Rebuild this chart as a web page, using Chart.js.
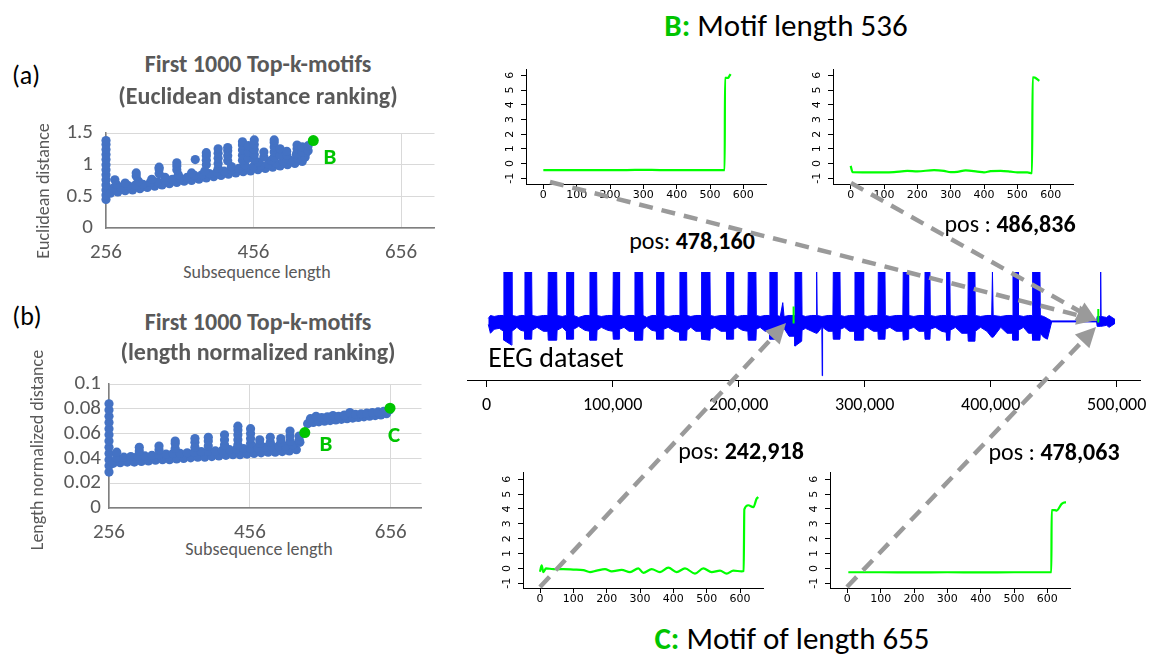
<!DOCTYPE html>
<html>
<head>
<meta charset="utf-8">
<script src="https://cdn.jsdelivr.net/npm/chart.js@4.4.1/dist/chart.umd.min.js"></script>
<style>
  body { margin: 0; background: #fff; }
  #page { position: relative; width: 1150px; height: 655px; overflow: hidden; font-family: Carlito, Lato, sans-serif; }
  #page canvas { position: absolute; }
  .t { position: absolute; white-space: nowrap; line-height: 1; }
</style>
</head>
<body>
<div id="page"></div>
<script>
'use strict';

// ---------- data ----------

// (a) / (b) ranking scatter plots: [subsequence length, distance]
var lengthTicks = [256, 456, 656];
var euclidTicks = [0, 0.5, 1, 1.5];
var normTicks = [0, 0.02, 0.04, 0.06, 0.08, 0.1];

var euclidPoints = [
  [256,0.45],[256,0.52],[256,0.6],[256,0.68],[256,0.76],[256,0.84],[256,0.92],[256,1.0],[256,1.08],[256,1.16],[256,1.24],[256,1.32],[256,1.38],
  [262,0.55],[272,0.57],[282,0.59],[292,0.6],[302,0.62],[312,0.64],[322,0.66],[332,0.68],[342,0.7],[352,0.72],[362,0.74],[372,0.75],[382,0.77],[392,0.79],
  [402,0.81],[412,0.83],[422,0.85],[432,0.87],[442,0.89],[452,0.9],[462,0.92],[472,0.94],[482,0.96],[492,0.98],[502,1.0],[512,1.02],[522,1.05],
  [266,0.63],[276,0.64],[286,0.67],[296,0.68],[306,0.69],[316,0.72],[326,0.73],[336,0.75],[346,0.77],[356,0.79],[366,0.8],[376,0.83],[386,0.84],[396,0.86],
  [406,0.88],[416,0.9],[426,0.92],[436,0.94],[446,0.96],[456,0.97],[466,0.99],[476,1.01],[486,1.03],[496,1.05],[506,1.07],[516,1.1],[526,1.12],
  [270,0.69],[282,0.71],[300,0.74],[318,0.77],[336,0.8],[354,0.84],[372,0.87],[390,0.9],[408,0.94],[426,0.97],[444,1.0],[462,1.04],[480,1.07],[498,1.1],[514,1.16],[528,1.2],
  [268,0.76],[297,0.82],[297,0.87],[328,0.86],[328,0.93],[328,0.96],[352,0.92],[352,0.98],[352,1.03],[377,1.08],
  [392,1.0],[392,1.07],[392,1.14],[392,1.19],[408,1.02],[408,1.1],[408,1.18],[408,1.25],[421,1.06],[421,1.14],[421,1.22],[421,1.27],
  [441,1.07],[441,1.15],[441,1.23],[441,1.31],[441,1.36],[449,1.1],[449,1.2],[449,1.3],[457,1.08],[457,1.16],[457,1.24],[457,1.32],[457,1.39],
  [470,1.12],[470,1.2],[484,1.12],[484,1.2],[484,1.28],[484,1.35],[484,1.39],[492,1.15],[492,1.25],[501,1.15],[501,1.21],
  [515,1.18],[515,1.25],[515,1.31],[522,1.2],[522,1.28],[530,1.22],[530,1.3]
];
var euclidMotifs = [[537, 1.38]];

var normPoints = [
  [256,0.029],[256,0.034],[256,0.039],[256,0.044],[256,0.049],[256,0.054],[256,0.059],[256,0.064],[256,0.069],[256,0.074],[256,0.079],[256,0.084],
  [262,0.036],[272,0.0365],[282,0.037],[292,0.037],[302,0.0375],[312,0.038],[322,0.0385],[332,0.039],[342,0.039],[352,0.0395],[362,0.04],[372,0.0405],
  [382,0.041],[392,0.041],[402,0.0415],[412,0.042],[422,0.0425],[432,0.043],[442,0.043],[452,0.0435],[462,0.044],[472,0.0445],[482,0.045],[492,0.045],
  [502,0.0455],[512,0.046],[522,0.047],
  [267,0.0405],[277,0.041],[287,0.0415],[297,0.042],[307,0.042],[317,0.0425],[327,0.043],[337,0.0435],[347,0.044],[357,0.044],[367,0.0445],[377,0.045],
  [387,0.0455],[397,0.046],[407,0.046],[417,0.0465],[427,0.047],[437,0.0475],[447,0.048],[457,0.048],[467,0.0485],[477,0.049],[487,0.0495],[497,0.05],
  [507,0.05],[517,0.051],[527,0.053],
  [267,0.045],[299,0.046],[299,0.049],[327,0.047],[327,0.05],[350,0.048],[350,0.052],[350,0.054],[378,0.049],[378,0.053],[378,0.056],
  [397,0.05],[397,0.054],[397,0.057],[420,0.051],[420,0.055],[420,0.059],[439,0.051],[439,0.055],[439,0.059],[439,0.063],[439,0.066],
  [457,0.052],[457,0.056],[457,0.06],[457,0.064],[470,0.052],[470,0.055],[485,0.053],[485,0.057],[500,0.053],[500,0.056],
  [513,0.054],[513,0.058],[513,0.062],[526,0.055],[526,0.058],
  [538,0.068],[546,0.069],[554,0.0695],[562,0.07],[570,0.0705],[578,0.071],[586,0.0715],[594,0.072],[602,0.0725],[610,0.073],[618,0.0735],
  [626,0.074],[634,0.0745],[642,0.075],[650,0.076],
  [542,0.072],[550,0.074],[558,0.073],[566,0.0735],[574,0.0745],[582,0.074],[590,0.075],[598,0.077],[606,0.0755],[614,0.076],[622,0.0765],
  [630,0.077],[638,0.0775],[646,0.078],[654,0.079]
];
var normMotifs = [[534, 0.0608], [655, 0.0805]];

// EEG dataset: envelope (upper / lower) of the signal at sample positions
var eegTicks = [0, 100000, 200000, 300000, 400000, 500000];
var eegTime = [
  1300, 3000, 6000, 10000,
  13400, 13700, 19800, 20100, 24000, 27000,
  30100, 30400, 35700, 36000, 40000, 45000,
  48600, 48900, 55600, 55900, 60000,
  63200, 63500, 68700, 69000, 73000, 78000,
  81700, 82000, 87300, 87600, 91000, 96000,
  100200, 100500, 105200, 105500, 109000, 113000,
  117400, 117700, 123800, 124100, 127000, 131000,
  134600, 134900, 140200, 140500, 144000, 149000,
  153100, 153400, 158700, 159000, 162000, 166000,
  170300, 170600, 177200, 177500, 181000, 186000,
  190200, 190500, 195700, 196000, 199000, 203000,
  207300, 207600, 213700, 214000, 217000, 221000,
  224500, 224800, 230100, 230400, 233000, 235000, 236000, 240000,
  244400, 244700, 250000, 250300, 253000, 258000,
  261500, 261900, 262300, 266000, 266300, 266600, 271000,
  274800, 275100, 280400, 280700, 284000, 288000,
  292000, 292300, 298900, 299200, 302000, 307000,
  310500, 310800, 316100, 316400, 320000, 325000,
  330300, 330600, 334600, 334900, 339000, 343000,
  347600, 347900, 351800, 352100, 356000, 361000,
  364700, 365000, 367600, 367900, 372000, 377000,
  381900, 382200, 387500, 387800, 392000, 397000,
  400800, 401400, 402000, 408000, 413000,
  417400, 417700, 421700, 422000, 426000, 430000,
  433000, 433300, 439100, 439400, 442000, 445000, 448400,
  484100, 484500, 487000, 487300, 487600, 492000, 494000, 498700
];
var eegHigh = [
  0.3, 0.6, 0.5, 0.6,
  0.6, 5, 5, 0.6, 0.5, 0.6,
  0.6, 5, 5, 0.6, 0.5, 0.6,
  0.6, 5, 5, 0.6, 0.5,
  0.6, 5, 5, 0.6, 0.4, 0.6,
  0.6, 5, 5, 0.6, 0.5, 0.6,
  0.6, 5, 5, 0.6, 0.5, 0.6,
  0.6, 5, 5, 0.6, 0.4, 0.6,
  0.6, 5, 5, 0.6, 0.5, 0.6,
  0.6, 5, 5, 0.6, 0.5, 0.6,
  0.6, 5, 5, 0.6, 0.5, 0.6,
  0.6, 5, 5, 0.6, 0.5, 0.6,
  0.6, 5, 5, 0.6, 0.5, 0.6,
  0.6, 5, 5, 0.6, 0.5, 1.9, 0.5, 0.6,
  0.6, 5, 5, 0.6, 0.5, 0.6,
  0.6, 5, 0.6, 0.5, 0.5, 0.5, 0.6,
  0.6, 5, 5, 0.6, 0.5, 0.6,
  0.6, 5, 5, 0.6, 0.5, 0.6,
  0.6, 5, 5, 0.6, 0.5, 0.6,
  0.6, 5, 5, 0.6, 0.5, 0.6,
  0.6, 5, 5, 0.6, 0.5, 0.6,
  0.6, 5, 5, 0.6, 0.5, 0.6,
  0.6, 5, 5, 0.6, 0.5, 0.6,
  0.6, 5, 0.6, 0.5, 0.6,
  0.6, 5, 5, 0.6, 0.5, 0.6,
  0.6, 5, 5, 0.6, 0.5, 0.3, 0.05,
  0.05, 0.5, 0.5, 5, 0.5, 0.4, 0.6, 0.2
];
var eegLow = [
  -0.3, -1.2, -0.8, -0.7,
  -1.0, -1.9, -2.4, -1.0, -0.6, -0.9,
  -1.0, -1.8, -1.8, -0.9, -0.6, -1.0,
  -1.0, -1.9, -1.9, -0.9, -0.6,
  -1.0, -1.8, -1.8, -0.8, -0.5, -0.9,
  -1.0, -1.9, -1.9, -0.9, -0.6, -0.9,
  -1.0, -1.8, -1.8, -0.8, -0.6, -1.0,
  -1.0, -1.9, -1.9, -0.8, -0.5, -0.9,
  -1.0, -1.8, -1.8, -0.8, -0.6, -1.0,
  -1.1, -1.9, -1.9, -0.9, -0.6, -1.0,
  -1.0, -1.8, -1.9, -0.8, -0.6, -1.0,
  -1.0, -1.8, -1.8, -0.8, -0.6, -0.9,
  -1.0, -1.9, -1.9, -0.8, -0.6, -1.0,
  -1.0, -1.8, -1.8, -0.8, -0.7, -0.8, -0.7, -1.5,
  -1.5, -2.5, -2.0, -0.9, -0.7, -1.0,
  -1.2, -1.2, -1.2, -0.6, -5.5, -0.6, -1.0,
  -1.0, -1.8, -1.8, -0.8, -0.6, -1.0,
  -1.0, -1.9, -1.9, -0.8, -0.6, -1.0,
  -1.0, -1.8, -1.8, -0.8, -0.6, -1.0,
  -1.0, -1.9, -1.8, -0.8, -0.6, -1.0,
  -1.0, -1.8, -1.8, -0.8, -0.6, -1.0,
  -1.1, -1.9, -1.9, -0.9, -0.6, -1.2,
  -1.2, -2.0, -2.0, -1.0, -0.6, -1.0,
  -1.6, -1.6, -1.6, -0.6, -1.2,
  -1.2, -1.9, -1.9, -0.9, -0.6, -1.2,
  -1.2, -1.9, -1.9, -1.2, -1.6, -1.8, -0.05,
  -0.05, -0.5, -0.5, -0.5, -0.5, -0.4, -0.6, -0.2
];
// green marks where the motifs sit in the EEG
var eegMotifTime = [243600, 243600, 364000, 485400, 485400];
var eegMotifValue = [-0.2, 1.5, null, -0.1, 1.25];

// the four motif occurrences (index, value)
var motifXTicks = [0, 100, 200, 300, 400, 500, 600];
var motifYTicks = [-1, 0, 1, 2, 3, 4, 5, 6];

var b1X = [0, 50, 100, 150, 200, 250, 300, 350, 400, 450, 500, 544, 545, 555, 558, 562];
var b1Y = [-0.44, -0.45, -0.44, -0.45, -0.44, -0.44, -0.43, -0.44, -0.44, -0.45, -0.44, -0.44, 5.82, 5.82, 5.95, 6.08];

var b2X = [0, 6, 50, 100, 130, 170, 200, 250, 280, 300, 320, 345, 380, 400, 420, 450, 480, 500, 530, 544, 546, 552, 566];
var b2Y = [-0.16, -0.59, -0.6, -0.6, -0.58, -0.5, -0.53, -0.45, -0.5, -0.58, -0.56, -0.47, -0.55, -0.6, -0.52, -0.5, -0.55, -0.6, -0.6, -0.66, 5.87, 5.85, 5.62];

var c1X = [0, 5, 10, 18, 40, 70, 100, 130, 150, 170, 195, 215, 245, 270, 295, 310, 335, 360, 385, 410, 435, 465, 490, 515, 540, 560, 580, 605, 611, 613, 625, 640, 650, 655];
var c1Y = [-0.22, 0.2, -0.25, 0.0, -0.05, -0.05, -0.08, -0.12, -0.25, -0.15, -0.05, -0.2, -0.1, -0.25, 0.0, -0.3, -0.05, -0.25, 0.05, -0.25, 0.0, -0.35, 0.0, -0.25, -0.15, -0.35, -0.15, -0.2, -0.18, 3.98, 4.25, 4.12, 4.7, 4.8];

var c2X = [3, 100, 200, 300, 400, 500, 612, 613, 623, 628, 643, 653, 656];
var c2Y = [-0.26, -0.26, -0.27, -0.26, -0.27, -0.26, -0.26, 3.92, 3.92, 3.89, 4.34, 4.45, 4.45];

// ---------- drawing ----------

var FONT = 'Carlito, Lato, sans-serif';
var GREEN = '#00c400';
var page = document.getElementById('page');

function makeCanvas(left, top, w, h) {
  var c = document.createElement('canvas');
  c.width = w; c.height = h;
  c.style.left = left + 'px'; c.style.top = top + 'px';
  page.appendChild(c);
  return c;
}

function addText(html, cx, cy, css, rotate) {
  var d = document.createElement('div');
  d.className = 't';
  d.innerHTML = html;
  d.style.cssText += css;
  d.style.left = cx + 'px';
  d.style.top = cy + 'px';
  d.style.transform = 'translate(-50%,-50%)' + (rotate ? ' rotate(-90deg)' : '');
  page.appendChild(d);
}

function toXY(p) { return { x: p[0], y: p[1] }; }
function zipXY(xs, ys) { return xs.map(function (x, i) { return { x: x, y: ys[i] }; }); }
function fixTicks(vals) { return function (s) { s.ticks = vals.map(function (v) { return { value: v }; }); }; }
function plainLabel(v) { return String(v); }

var noPlugins = { legend: { display: false }, tooltip: { enabled: false } };

function rankingChart(canvas, points, motifs, xMax, yMax, yTicks, yWidth, yPad) {
  return new Chart(canvas, {
    type: 'scatter',
    data: {
      datasets: [
        { data: motifs.map(toXY), backgroundColor: GREEN, pointRadius: 5.5, borderWidth: 0, clip: false },
        { data: points.map(toXY), backgroundColor: '#4472c4', pointRadius: 4.6, borderWidth: 0, clip: false }
      ]
    },
    options: {
      responsive: false, animation: false, events: [],
      layout: { padding: { top: 28, right: 0, bottom: 0, left: 0 } },
      plugins: noPlugins,
      scales: {
        x: {
          type: 'linear', min: 256, max: xMax,
          afterBuildTicks: fixTicks(lengthTicks),
          afterFit: function (s) { s.height = 30; },
          grid: { color: '#d9d9d9', drawTicks: false },
          border: { color: '#7f7f7f', width: 1.5 },
          ticks: { color: '#595959', font: { family: FONT, size: 21 }, padding: 12, maxRotation: 0, autoSkip: false, callback: plainLabel }
        },
        y: {
          min: 0, max: yMax,
          afterBuildTicks: fixTicks(yTicks),
          afterFit: function (s) { s.width = yWidth; },
          grid: { color: '#d9d9d9', drawTicks: false },
          border: { color: '#7f7f7f', width: 1.5 },
          ticks: { color: '#595959', font: { family: FONT, size: 21 }, padding: yPad, autoSkip: false, callback: plainLabel }
        }
      }
    }
  });
}

function motifChart(canvas, xs, ys, xMin, xMax, yMin, yMax) {
  return new Chart(canvas, {
    type: 'line',
    data: {
      datasets: [{
        data: zipXY(xs, ys), borderColor: '#00ff00', borderWidth: 2.2,
        pointRadius: 0, cubicInterpolationMode: 'monotone'
      }]
    },
    options: {
      responsive: false, animation: false, events: [],
      layout: { padding: { top: 12, right: 6, bottom: 0, left: 0 } },
      plugins: noPlugins,
      scales: {
        x: {
          type: 'linear', min: xMin, max: xMax,
          afterBuildTicks: fixTicks(motifXTicks),
          afterFit: function (s) { s.height = 26; },
          grid: { drawOnChartArea: false, tickLength: 5, color: '#000' },
          border: { color: '#000', width: 1 },
          ticks: { color: '#000', font: { family: 'DejaVu Sans', size: 11 }, padding: 0, maxRotation: 0, autoSkip: false, callback: plainLabel }
        },
        y: {
          min: yMin, max: yMax,
          afterBuildTicks: fixTicks(motifYTicks),
          afterFit: function (s) { s.width = 30; },
          grid: { drawOnChartArea: false, tickLength: 5, color: '#000' },
          border: { color: '#000', width: 1 },
          ticks: { color: '#000', font: { family: 'DejaVu Sans', size: 11 }, padding: 5, minRotation: 90, maxRotation: 90, crossAlign: 'center', autoSkip: false, callback: plainLabel }
        }
      }
    }
  });
}

// left panels
rankingChart(makeCanvas(40, 105, 400, 153), euclidPoints, euclidMotifs, 701.3, 1.5, euclidTicks, 66, 13);
rankingChart(makeCanvas(40, 356, 387, 182), normPoints, normMotifs, 699.7, 0.1, normTicks, 69, 8);

// EEG overview
new Chart(makeCanvas(460, 262, 700, 158), {
  type: 'line',
  data: {
    datasets: [
      { data: zipXY(eegMotifTime, eegMotifValue), borderColor: '#00ff00', borderWidth: 2, pointRadius: 0, spanGaps: false },
      { data: zipXY(eegTime, eegHigh), borderColor: '#0000ff', backgroundColor: '#0000ff', borderWidth: 1, pointRadius: 0, fill: '+1' },
      { data: zipXY(eegTime, eegLow), borderColor: '#0000ff', borderWidth: 1, pointRadius: 0, fill: false }
    ]
  },
  options: {
    responsive: false, animation: false, events: [],
    layout: { padding: { top: 10, right: 20, bottom: 0, left: 7 } },
    plugins: noPlugins,
    scales: {
      x: {
        type: 'linear', min: -15600, max: 518500,
        afterBuildTicks: fixTicks(eegTicks),
        afterFit: function (s) { s.height = 40; },
        grid: { drawOnChartArea: false, tickLength: 7, color: '#000' },
        border: { color: '#000', width: 1 },
        ticks: {
          color: '#000', font: { family: FONT, size: 18 }, padding: 8, maxRotation: 0, autoSkip: false,
          callback: function (v) { return v.toLocaleString('en-US'); }
        }
      },
      y: { display: false, min: -5.93, max: 5 }
    }
  }
});

// motif close-ups
motifChart(makeCanvas(496, 57, 276, 153), b1X, b1Y, -52, 668, -1.39, 6.43);
motifChart(makeCanvas(803, 57, 276, 153), b2X, b2Y, -53, 667, -1.39, 6.43);
motifChart(makeCanvas(493, 460, 276, 154), c1X, c1Y, -51, 669, -1.32, 6.49);
motifChart(makeCanvas(800, 460, 276, 154), c2X, c2Y, -52, 668, -1.32, 6.49);

// texts
var grayTitle = 'font-size:24px;font-weight:bold;color:#595959;';
var axisTitle = 'font-size:18px;color:#595959;';
var greenMark = 'font-size:23px;font-weight:bold;color:' + GREEN + ';';
addText('(a)', 26, 75, 'font-size:26px;color:#000;');
addText('(b)', 27, 316, 'font-size:26px;color:#000;');
addText('First 1000 Top-k-motifs', 258, 64, grayTitle);
addText('(Euclidean distance ranking)', 258, 96, grayTitle);
addText('First 1000 Top-k-motifs', 258, 322, grayTitle);
addText('(length normalized ranking)', 258, 352, grayTitle);
addText('Euclidean distance', 43, 191, axisTitle, true);
addText('Subsequence length', 257, 272, axisTitle);
addText('Length normalized distance', 37, 450, axisTitle, true);
addText('Subsequence length', 259, 549, axisTitle);
addText('B', 330, 156, greenMark);
addText('B', 326, 443, greenMark);
addText('C', 394, 434, greenMark);

addText('<b style="color:' + GREEN + '">B:</b> Motif length 536', 786, 25, 'font-size:31px;color:#000;');
addText('<b style="color:' + GREEN + '">C:</b> Motif of length 655', 792, 638, 'font-size:31px;color:#000;');
addText('pos: <b>478,160</b>', 692, 241, 'font-size:24px;color:#000;');
addText('pos : <b>486,836</b>', 1010, 224, 'font-size:24px;color:#000;');
addText('pos: <b>242,918</b>', 741, 451, 'font-size:24px;color:#000;');
addText('pos : <b>478,063</b>', 1054, 452, 'font-size:24px;color:#000;');
addText('EEG dataset', 556, 358, 'font-size:28px;color:#000;');

// dashed arrows linking the close-ups to their place in the EEG
var arrows = [
  [550, 182, 1097, 320],
  [851, 183, 1097, 321],
  [540, 587, 786, 323],
  [847, 587, 1096, 327]
];
var overlay = makeCanvas(0, 0, 1150, 655);
overlay.style.zIndex = 5;
overlay.style.pointerEvents = 'none';
var ctx = overlay.getContext('2d');
ctx.strokeStyle = '#9a9a9a';
ctx.fillStyle = '#9a9a9a';
ctx.lineWidth = 4.5;
arrows.forEach(function (a) {
  var ang = Math.atan2(a[3] - a[1], a[2] - a[0]);
  var head = 20, half = 10;
  var bx = a[2] - head * Math.cos(ang), by = a[3] - head * Math.sin(ang);
  ctx.setLineDash([14, 9]);
  ctx.beginPath(); ctx.moveTo(a[0], a[1]); ctx.lineTo(bx, by); ctx.stroke();
  ctx.setLineDash([]);
  ctx.beginPath();
  ctx.moveTo(a[2], a[3]);
  ctx.lineTo(bx + half * Math.sin(ang), by - half * Math.cos(ang));
  ctx.lineTo(bx - half * Math.sin(ang), by + half * Math.cos(ang));
  ctx.closePath(); ctx.fill();
});
</script>
</body>
</html>
